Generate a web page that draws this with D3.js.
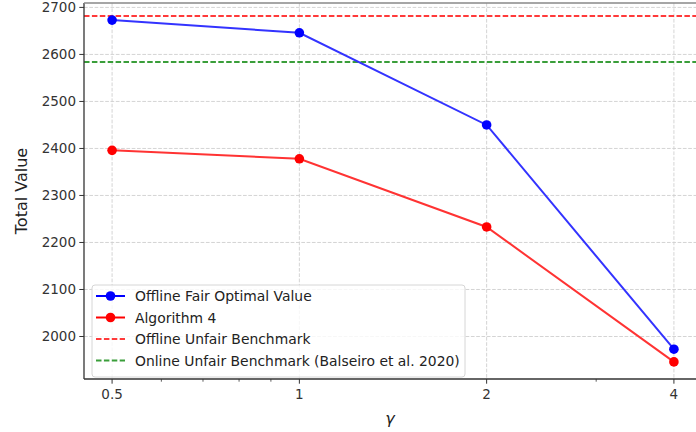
<!DOCTYPE html>
<html>
<head>
<meta charset="utf-8">
<script src="https://cdn.jsdelivr.net/npm/d3@7"></script>
<style>
  body { margin: 0; background: #fff; }
  svg { display: block; font-family: "DejaVu Sans", sans-serif; }
</style>
</head>
<body>
<div id="chart"></div>
<script>
// Data
const gammas = [0.5, 1, 2, 4];
const gammaLabels = ["0.5", "1", "2", "4"];
const offlineFair = [2673, 2646, 2450, 1973];
const algorithm4 = [2396, 2378, 2233, 1946];
const offlineUnfair = 2682;
const onlineUnfair = 2584;
const yTicks = [2000, 2100, 2200, 2300, 2400, 2500, 2600, 2700];
const minorTicks = [0.6, 0.7, 0.8, 0.9, 3];

function drawChart() {
  const width = 696;
  const height = 432;

  // Plot area (right spine sits just past the window edge)
  const left = 84, right = 702, top = 3, bottom = 379;

  const x = d3.scaleLog().base(2)
    .domain([Math.pow(2, -1.15), Math.pow(2, 2.15)])
    .range([left, right]);
  const y = d3.scaleLinear()
    .domain([1909.6, 2709.4])
    .range([bottom, top]);

  const svg = d3.select("#chart")
    .append("svg")
    .attr("width", width)
    .attr("height", height);

  // Grid
  const grid = svg.append("g")
    .attr("stroke", "#cfcfcf")
    .attr("stroke-width", 0.9)
    .attr("stroke-dasharray", "3.7,1.6");
  grid.selectAll("line.gx")
    .data(gammas)
    .enter()
    .append("line")
    .attr("x1", (d) => x(d)).attr("x2", (d) => x(d))
    .attr("y1", top).attr("y2", bottom);
  grid.selectAll("line.gy")
    .data(yTicks)
    .enter()
    .append("line")
    .attr("x1", left).attr("x2", right)
    .attr("y1", (d) => y(d)).attr("y2", (d) => y(d));

  // Benchmarks
  svg.append("line")
    .attr("x1", left).attr("x2", right)
    .attr("y1", y(offlineUnfair)).attr("y2", y(offlineUnfair))
    .attr("stroke", "#ff3a3a")
    .attr("stroke-width", 2)
    .attr("stroke-dasharray", "5.5,2.4");
  svg.append("line")
    .attr("x1", left).attr("x2", right)
    .attr("y1", y(onlineUnfair)).attr("y2", y(onlineUnfair))
    .attr("stroke", "#3a9e3a")
    .attr("stroke-width", 2)
    .attr("stroke-dasharray", "5.5,2.4");

  // Series
  const series = [
    { values: offlineFair, line: "#3333ff", dot: "#0000ff" },
    { values: algorithm4, line: "#ff3333", dot: "#ff0000" }
  ];
  const lineGen = d3.line()
    .x((d, i) => x(gammas[i]))
    .y((d) => y(d));

  series.forEach((s) => {
    svg.append("path")
      .attr("d", lineGen(s.values))
      .attr("fill", "none")
      .attr("stroke", s.line)
      .attr("stroke-width", 2);
    svg.selectAll(null)
      .data(s.values)
      .enter()
      .append("circle")
      .attr("cx", (d, i) => x(gammas[i]))
      .attr("cy", (d) => y(d))
      .attr("r", 4.8)
      .attr("fill", s.dot);
  });

  // Spines
  svg.append("line")
    .attr("x1", left).attr("x2", left).attr("y1", top).attr("y2", bottom)
    .attr("stroke", "#333").attr("stroke-width", 1.3);
  svg.append("line")
    .attr("x1", left).attr("x2", right).attr("y1", bottom).attr("y2", bottom)
    .attr("stroke", "#333").attr("stroke-width", 1.3);
  svg.append("line")
    .attr("x1", left).attr("x2", right).attr("y1", top).attr("y2", top)
    .attr("stroke", "#888").attr("stroke-width", 1.3);

  // Y axis ticks
  const yt = svg.selectAll("g.yt")
    .data(yTicks)
    .enter()
    .append("g")
    .attr("transform", (d) => `translate(${left}, ${y(d)})`);
  yt.append("line").attr("x1", -4.7).attr("x2", 0).attr("stroke", "#333").attr("stroke-width", 1);
  yt.append("text")
    .attr("x", -8)
    .attr("dy", "0.36em")
    .attr("text-anchor", "end")
    .attr("fill", "#333")
    .style("font-size", "13.5px")
    .text((d) => d);

  // X axis ticks
  const xt = svg.selectAll("g.xt")
    .data(gammas)
    .enter()
    .append("g")
    .attr("transform", (d) => `translate(${x(d)}, ${bottom})`);
  xt.append("line").attr("y1", 0).attr("y2", 4.7).attr("stroke", "#333").attr("stroke-width", 1);
  xt.append("text")
    .attr("y", 8)
    .attr("dy", "0.9em")
    .attr("text-anchor", "middle")
    .attr("fill", "#333")
    .style("font-size", "13.5px")
    .text((d, i) => gammaLabels[i]);
  svg.selectAll("line.minor")
    .data(minorTicks)
    .enter()
    .append("line")
    .attr("x1", (d) => x(d)).attr("x2", (d) => x(d))
    .attr("y1", bottom).attr("y2", bottom + 2.7)
    .attr("stroke", "#333").attr("stroke-width", 0.8);

  // Axis labels
  svg.append("text")
    .attr("transform", `translate(27, ${(top + bottom) / 2}) rotate(-90)`)
    .attr("text-anchor", "middle")
    .attr("fill", "#222")
    .style("font-size", "16px")
    .text("Total Value");
  svg.append("text")
    .attr("x", (left + 696) / 2)
    .attr("y", 424)
    .attr("text-anchor", "middle")
    .attr("fill", "#222")
    .style("font-size", "16px")
    .style("font-style", "italic")
    .text("γ");

  // Legend
  const legendItems = [
    { label: "Offline Fair Optimal Value", color: "#0000ff", dash: null, dot: true },
    { label: "Algorithm 4", color: "#ff0000", dash: null, dot: true },
    { label: "Offline Unfair Benchmark", color: "#ff3a3a", dash: "5.5,2.4", dot: false },
    { label: "Online Unfair Benchmark (Balseiro et al. 2020)", color: "#3a9e3a", dash: "5.5,2.4", dot: false }
  ];
  const lg = svg.append("g").attr("transform", "translate(92, 285)");
  lg.append("rect")
    .attr("width", 373).attr("height", 92).attr("rx", 3)
    .attr("fill", "rgba(255,255,255,0.8)")
    .attr("stroke", "#d6d6d6");
  const rows = lg.selectAll("g.row")
    .data(legendItems)
    .enter()
    .append("g")
    .attr("transform", (d, i) => `translate(0, ${11 + i * 21.5})`);
  rows.append("line")
    .attr("x1", 4).attr("x2", 33)
    .attr("stroke", (d) => d.color)
    .attr("stroke-width", 2)
    .attr("stroke-dasharray", (d) => d.dash);
  rows.filter((d) => d.dot)
    .append("circle")
    .attr("cx", 18.5).attr("r", 4.8)
    .attr("fill", (d) => d.color);
  rows.append("text")
    .attr("x", 43)
    .attr("dy", "0.36em")
    .attr("fill", "#222")
    .style("font-size", "13.9px")
    .text((d) => d.label);
}

window.onload = drawChart;
</script>
</body>
</html>
